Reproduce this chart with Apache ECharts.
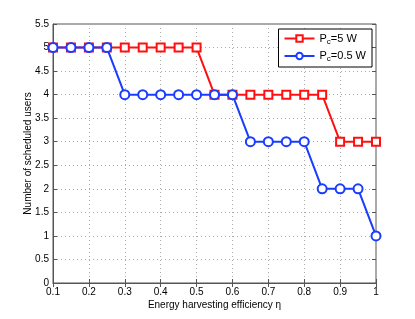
<!DOCTYPE html>
<html><head><meta charset="utf-8">
<script src="https://cdn.jsdelivr.net/npm/echarts@6/dist/echarts.min.js"></script>
<style>html,body{margin:0;padding:0;background:#fff}#c{width:415px;height:319px}</style>
</head><body><div id="c"></div>
<script>
const etaValues = [0.1,0.15,0.2,0.25,0.3,0.35,0.4,0.45,0.5,0.55,0.6,0.65,0.7,0.75,0.8,0.85,0.9,0.95,1];
const users5W = [5,5,5,5,5,5,5,5,5,4,4,4,4,4,4,4,3,3,3];
const users05W = [5,5,5,5,4,4,4,4,4,4,4,3,3,3,3,2,2,2,1];
const seriesNames = ['P_c=5 W','P_c=0.5 W'];
const legendLabels = {'P_c=5 W':['P','c','=5 W'],'P_c=0.5 W':['P','c','=0.5 W']};
const xTitle = 'Energy harvesting efficiency η';
const yTitle = 'Number of scheduled users';

const font = 'Liberation Sans, Arial, sans-serif';
const chart = echarts.init(document.getElementById('c'), null, {renderer:'canvas'});
const zip = arr => etaValues.map((x,i)=>[x,arr[i]]);
const axisCol = '#555';
const fmtNum = v => String(Math.round(v*100)/100);
chart.setOption({
  animation:false,
  backgroundColor:'#fff',
  grid:{left:53,right:39,top:24,bottom:36,show:true,borderColor:axisCol,borderWidth:1},
  legend:{
    orient:'vertical', right:43, top:29,
    backgroundColor:'#fff', borderColor:'#000', borderWidth:1,
    padding:[4,6,4,5], itemWidth:30, itemHeight:8, itemGap:5,
    data:seriesNames,
    formatter: n => { const p = legendLabels[n]; return '{a|'+p[0]+'}{b|'+p[1]+'}{a|'+p[2]+'}'; },
    textStyle:{fontFamily:font,fontSize:11,color:'#000',
      rich:{a:{fontFamily:font,fontSize:11,color:'#000'},b:{fontFamily:font,fontSize:8,color:'#000',verticalAlign:'bottom',padding:[6,0,0,0]}}}
  },
  xAxis:[{
    type:'value', min:0.1, max:1, interval:0.1,
    name:xTitle, nameLocation:'middle', nameGap:17, nameMoveOverlap:false,
    nameTextStyle:{fontFamily:font,fontSize:10,color:'#000'},
    axisLine:{onZero:false,lineStyle:{color:axisCol,width:1}},
    axisTick:{inside:true,length:4,lineStyle:{color:axisCol}},
    axisLabel:{fontFamily:font,fontSize:10,color:'#000',margin:4,formatter:fmtNum},
    splitLine:{show:true,lineStyle:{type:[1,3],color:'#aaa',width:1}}
  },{
    type:'value', position:'top', min:0.1, max:1, interval:0.1,
    axisLine:{show:false}, axisTick:{inside:true,length:4,lineStyle:{color:axisCol}},
    axisLabel:{show:false}, splitLine:{show:false}
  }],
  yAxis:[{
    type:'value', min:0, max:5.5, interval:0.5,
    name:yTitle, nameLocation:'middle', nameGap:20, nameMoveOverlap:false,
    nameTextStyle:{fontFamily:font,fontSize:10,color:'#000'},
    axisLine:{onZero:false,lineStyle:{color:axisCol,width:1}},
    axisTick:{inside:true,length:4,lineStyle:{color:axisCol}},
    axisLabel:{fontFamily:font,fontSize:10,color:'#000',margin:4,formatter:fmtNum},
    splitLine:{show:true,lineStyle:{type:[1,3],color:'#aaa',width:1}}
  },{
    type:'value', position:'right', min:0, max:5.5, interval:0.5,
    axisLine:{show:false}, axisTick:{inside:true,length:4,lineStyle:{color:axisCol}},
    axisLabel:{show:false}, splitLine:{show:false}
  }],
  series:[
    {name:seriesNames[0], type:'line', data:zip(users5W), symbol:'emptyRect', symbolSize:8,
     color:'#ff1010', lineStyle:{width:2,color:'#ff1010'}, itemStyle:{color:'#ff1010',borderWidth:1.5}, z:3},
    {name:seriesNames[1], type:'line', data:zip(users05W), symbol:'emptyCircle', symbolSize:9,
     color:'#1a3cff', lineStyle:{width:2,color:'#1a3cff'}, itemStyle:{color:'#1a3cff',borderWidth:1.5}, z:4}
  ]
});
</script></body></html>
